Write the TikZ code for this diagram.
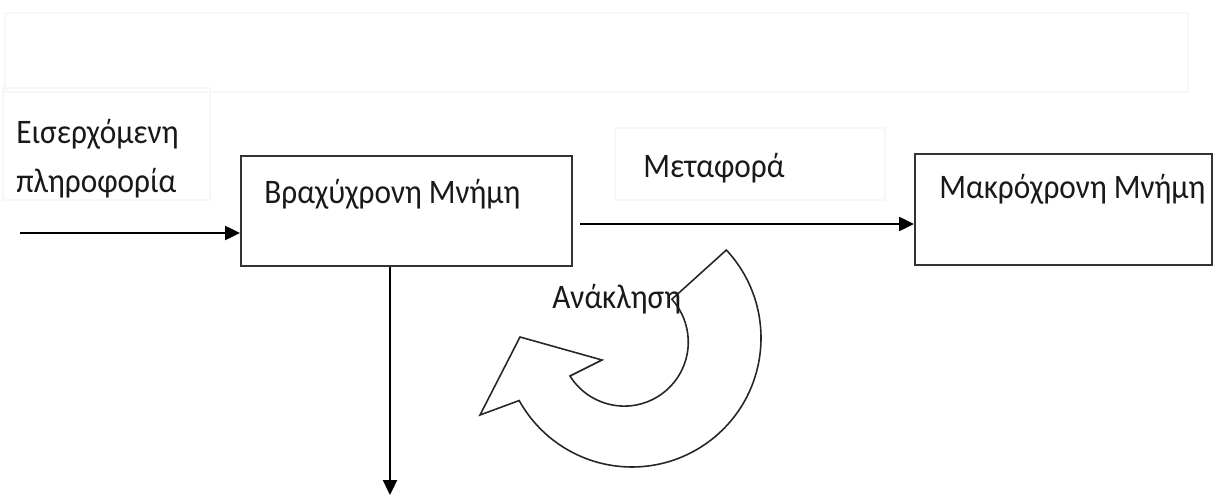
\documentclass[tikz,border=0pt]{standalone}
\usepackage{fontspec}
\usepackage{graphicx}
\setmainfont{Carlito}
\usetikzlibrary{arrows.meta,calc}
\newcommand{\tallword}[1]{\scalebox{1}[1.1]{#1}}
\begin{document}
\begin{tikzpicture}[x=0.02cm,y=-0.02cm,
  lbl/.style={anchor=base west,inner sep=0pt,text=black!90,font=\fontsize{17.8}{20}\selectfont},
  membox/.style={draw=black!80,line width=1.1pt,inner sep=0pt},
  faint/.style={draw=black!3,line width=0.6pt},
  flow/.style={draw=black,line width=1.1pt,-{Triangle[length=8.5pt,width=8pt]}},
  ring/.style={draw=black!85,line width=0.9pt,fill=white,line join=miter}]
\useasboundingbox (0,0) rectangle (1214,503);
% faint frames
\draw[faint] (5,13) rectangle (1188,92);
\draw[faint] (3,88) rectangle (210,200);
\draw[faint] (615,128) rectangle (885,200);
% boxes
\node[membox,minimum width=331*0.02cm,minimum height=110*0.02cm] (short) at (406.5,211) {};
\node[membox,minimum width=297*0.02cm,minimum height=111*0.02cm] (long) at (1063.5,209.5) {};
% labels
\node[lbl] (in1) at (16,144) {\tallword{Εισερχόμενη}};
\node[lbl] (in2) at (16,193) {\tallword{πληροφορία}};
\node[lbl] (stl) at (264,204) {\tallword{Βραχύχρονη Μνήμη}};
\node[lbl] (ltl) at (939,199) {\tallword{Μακρόχρονη Μνήμη}};
\node[lbl] (tr) at (643,178) {\tallword{Μεταφορά}};
% connectors
\coordinate (inStart) at (20,233);
\coordinate (trStart) at (580,224);
\coordinate (outEnd) at (390,495);
\draw[flow] (inStart) -- (inStart -| short.west);
\draw[flow] (trStart) -- (trStart -| long.west);
\draw[flow] (short.south -| outEnd) -- (outEnd);
% curved recall arrow
\coordinate (c) at (632,338);
\draw[ring] ($(c)+(-43:129)$)
  arc[start angle=-43,end angle=151,radius=129]
  -- (480,415) -- (520,337) -- (602,360) -- (570,376)
  arc[start angle=148,end angle=-42,radius=64] -- cycle;
\node[lbl] (rec) at (552,309) {\tallword{Ανάκληση}};
\end{tikzpicture}
\end{document}
